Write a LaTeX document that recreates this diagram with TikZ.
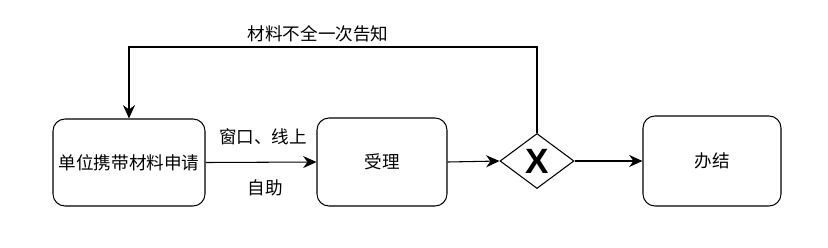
\documentclass[tikz,border=0pt]{standalone}
\usepackage{fontspec}
\setmainfont{Noto Sans CJK SC}
\newfontfamily\gatefont{Liberation Sans}
\usetikzlibrary{arrows.meta,shapes.geometric}

\begin{document}
\begin{tikzpicture}[
  x=0.3mm, y=-0.3mm,
  font=\fontsize{15}{18}\selectfont,
  box/.style={draw, line width=0.9pt, rounded corners=3.6mm, align=center, inner sep=0pt},
  gate/.style={draw, line width=0.9pt, diamond, aspect=1.35, inner sep=0pt,
               minimum width=22.2mm, minimum height=16.5mm},
  flow/.style={line width=0.9pt, -{Stealth[length=4mm, width=3.6mm, inset=1.3mm]}},
  lbl/.style={inner sep=1pt}
]
\useasboundingbox (0,0) rectangle (828,247);

% ---------- steps ----------
\node[box, minimum width=45.6mm, minimum height=26.1mm] (apply) at (129,162.5) {单位携带材料申请};
\node[box, minimum width=39mm, minimum height=26.4mm] (accept) at (382,162) {受理};
\node[gate] (gw) at (537,161) {};
\node[font=\gatefont\bfseries\fontsize{30}{30}\selectfont] (gwx) at (gw) {X};
\node[box, minimum width=41.4mm, minimum height=27mm] (done) at (712,161) {办结};

% ---------- flows ----------
\draw[flow] (apply.east) -- (accept.west);
\node[lbl] (chan1) at (263,137) {窗口、线上};
\node[lbl] (chan2) at (265,188) {自助};

\draw[flow] (accept.east) -- (gw.west);
\draw[flow] (gw.east) -- (done.west);

% back to the applicant
\coordinate (fbtop) at (gw.north |- 0,47);
\draw[flow] (gw.north) -- (fbtop) -| (apply.north);
\node[lbl] (fblabel) at (318,34) {材料不全一次告知};
\end{tikzpicture}
\end{document}
